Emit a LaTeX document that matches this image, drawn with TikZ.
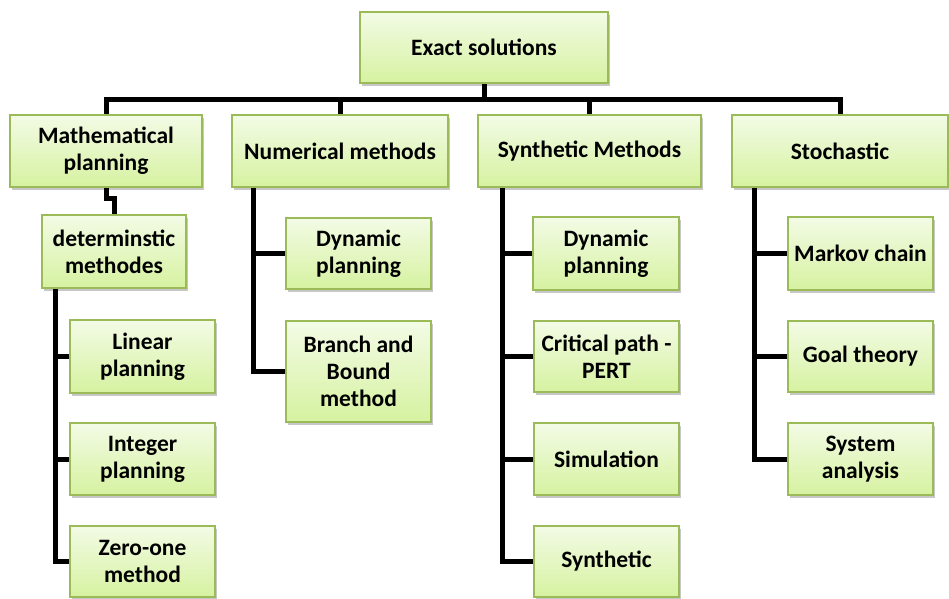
\documentclass[tikz,border=0pt]{standalone}
\usepackage{fontspec}
\setmainfont{Carlito}
\usetikzlibrary{shadows,backgrounds}
\definecolor{boxborder}{RGB}{155,187,89}
\definecolor{boxtop}{RGB}{243,251,230}
\definecolor{boxbot}{RGB}{214,242,160}
\tikzset{
  box/.style={rectangle, draw=boxborder, line width=1.5pt, top color=boxtop, bottom color=boxbot,
    align=center, inner sep=0pt, font=\fontsize{23.5}{27}\selectfont\bfseries,
    drop shadow={shadow xshift=2pt, shadow yshift=-3pt, fill=black, opacity=0.22}},
  conn/.style={line width=5pt, draw=black, line join=miter}
}
\begin{document}
\begin{tikzpicture}[x=1pt,y=-1pt]
\useasboundingbox (0,0) rectangle (949,598);
% top
\node[box, minimum width=248, minimum height=71] (top) at (484,47.5) {Exact solutions};
% level 1
\node[box, minimum width=192, minimum height=72] (math) at (106,151) {Mathematical\\planning};
\node[box, minimum width=216, minimum height=72] (num) at (340,151) {Numerical methods};
\node[box, minimum width=223, minimum height=72] (syn) at (589.5,151) {Synthetic Methods};
\node[box, minimum width=216, minimum height=72] (stoch) at (840,151) {Stochastic};
% mathematical
\node[box, minimum width=144, minimum height=73] (det) at (114,251.5) {determinstic\\methodes};
\node[box, minimum width=145, minimum height=73] (lin) at (142.5,356.5) {Linear\\planning};
\node[box, minimum width=145, minimum height=72] (int) at (142.5,459) {Integer\\planning};
\node[box, minimum width=145, minimum height=71] (zero) at (142.5,561.5) {Zero-one\\method};
% numerical
\node[box, minimum width=145, minimum height=71] (dyn1) at (358.5,253.5) {Dynamic\\planning};
\node[box, minimum width=145, minimum height=101] (bb) at (358.5,371.5) {Branch and\\Bound\\method};
% synthetic
\node[box, minimum width=146, minimum height=73] (dyn2) at (606,253.5) {Dynamic\\planning};
\node[box, minimum width=145, minimum height=71] (crit) at (606.5,356.5) {Critical path -\\PERT};
\node[box, minimum width=145, minimum height=72] (sim) at (606.5,459) {Simulation};
\node[box, minimum width=145, minimum height=71] (synt) at (606.5,561.5) {Synthetic};
% stochastic
\node[box, minimum width=145, minimum height=73] (mark) at (860.5,253.5) {Markov chain};
\node[box, minimum width=145, minimum height=71] (goal) at (860.5,356.5) {Goal theory};
\node[box, minimum width=145, minimum height=72] (sys) at (860.5,459) {System\\analysis};
% connectors
\begin{scope}[on background layer]
\coordinate (bar) at (484,99);
\draw[conn] (top.south) -- (bar);
\draw[conn] (math.north) -- (math.north |- bar) -- (stoch.north |- bar) -- (stoch.north);
\draw[conn] (num.north) -- (num.north |- bar);
\draw[conn] (syn.north) -- (syn.north |- bar);
\draw[conn] (math.south) -- ++(0,11) -| (det.north);
\coordinate (dl) at (55,288);
\draw[conn] (dl) |- (zero.west);
\draw[conn] (dl |- lin.west) -- (lin.west);
\draw[conn] (dl |- int.west) -- (int.west);
\coordinate (nl) at (253,187);
\draw[conn] (nl) |- (bb.west);
\draw[conn] (nl |- dyn1.west) -- (dyn1.west);
\coordinate (sl) at (502,187);
\draw[conn] (sl) |- (synt.west);
\draw[conn] (sl |- dyn2.west) -- (dyn2.west);
\draw[conn] (sl |- crit.west) -- (crit.west);
\draw[conn] (sl |- sim.west) -- (sim.west);
\coordinate (tl) at (754,187);
\draw[conn] (tl) |- (sys.west);
\draw[conn] (tl |- mark.west) -- (mark.west);
\draw[conn] (tl |- goal.west) -- (goal.west);
\end{scope}
\end{tikzpicture}
\end{document}
